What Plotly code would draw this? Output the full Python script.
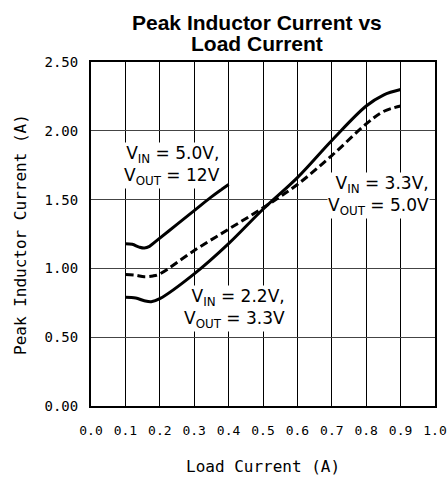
import plotly.graph_objects as go

# Series: VIN = 5.0V, VOUT = 12V (solid)
x_5v = [0.10, 0.12, 0.14, 0.155, 0.17, 0.19, 0.25, 0.30, 0.35, 0.40]
y_5v = [1.18, 1.175, 1.155, 1.148, 1.16, 1.20, 1.32, 1.42, 1.52, 1.61]

# Series: VIN = 2.2V, VOUT = 3.3V (solid)
x_22v = [0.10, 0.13, 0.155, 0.175, 0.20, 0.30, 0.40, 0.50, 0.60, 0.70, 0.80, 0.85, 0.90]
y_22v = [0.79, 0.785, 0.765, 0.758, 0.78, 0.96, 1.18, 1.43, 1.66, 1.93, 2.18, 2.26, 2.30]

# Series: VIN = 3.3V, VOUT = 5.0V (dashed)
x_33v = [0.10, 0.13, 0.155, 0.18, 0.20, 0.30, 0.40, 0.50, 0.60, 0.70, 0.80, 0.85, 0.90]
y_33v = [0.955, 0.95, 0.94, 0.945, 0.96, 1.13, 1.285, 1.44, 1.61, 1.82, 2.05, 2.14, 2.18]

x_ticks = [0.0, 0.1, 0.2, 0.3, 0.4, 0.5, 0.6, 0.7, 0.8, 0.9, 1.0]
x_tick_labels = ["0.0", "0.1", "0.2", "0.3", "0.4", "0.5", "0.6", "0.7", "0.8", "0.9", "1.0"]
y_ticks = [0.0, 0.5, 1.0, 1.5, 2.0, 2.5]
y_tick_labels = ["0.00", "0.50", "1.00", "1.50", "2.00", "2.50"]

title_lines = ["Peak Inductor Current vs", "Load Current"]
x_title = "Load Current (A)"
y_title = "Peak Inductor Current (A)"

MONO = "DejaVu Sans Mono"
SANS = "DejaVu Sans"

fig = go.Figure()
fig.add_trace(go.Scatter(x=x_5v, y=y_5v, mode="lines", line=dict(color="black", width=3, shape="spline"), showlegend=False))
fig.add_trace(go.Scatter(x=x_22v, y=y_22v, mode="lines", line=dict(color="black", width=3, shape="spline"), showlegend=False))
fig.add_trace(go.Scatter(x=x_33v, y=y_33v, mode="lines", line=dict(color="black", width=3, dash="8px,4px", shape="spline"), showlegend=False))

ann_font = dict(family=SANS, size=17, color="black")
fig.add_annotation(x=0.378, y=1.75, xref="x", yref="y", xanchor="right", yanchor="middle", align="right",
                   text="V<sub>IN</sub> = 5.0V,<br>V<sub>OUT</sub> = 12V", showarrow=False, font=ann_font,
                   bgcolor="white", borderpad=0)
fig.add_annotation(x=0.567, y=0.705, xref="x", yref="y", xanchor="right", yanchor="middle", align="right",
                   text="V<sub>IN</sub> = 2.2V,<br>V<sub>OUT</sub> = 3.3V", showarrow=False, font=ann_font,
                   bgcolor="white", borderpad=0)
fig.add_annotation(x=0.985, y=1.53, xref="x", yref="y", xanchor="right", yanchor="middle", align="right",
                   text="V<sub>IN</sub> = 3.3V,<br>V<sub>OUT</sub> = 5.0V", showarrow=False, font=ann_font,
                   bgcolor="white", borderpad=0)

# Title (two tightly spaced lines)
title_font = dict(family="Liberation Sans, Arial", size=21, color="black")
fig.add_annotation(x=0.4826, y=1.1134, xref="paper", yref="paper", xanchor="center", yanchor="middle",
                   text="<b>" + title_lines[0] + "</b>", showarrow=False, font=title_font)
fig.add_annotation(x=0.4826, y=1.0552, xref="paper", yref="paper", xanchor="center", yanchor="middle",
                   text="<b>" + title_lines[1] + "</b>", showarrow=False, font=title_font)

# Axis titles
axis_title_font = dict(family=MONO, size=16, color="black")
fig.add_annotation(x=0.5, y=-0.1773, xref="paper", yref="paper", xanchor="center", yanchor="middle",
                   text=x_title, showarrow=False, font=axis_title_font)
fig.add_annotation(x=-0.2064, y=0.5, xref="paper", yref="paper", xanchor="center", yanchor="middle",
                   text=y_title, textangle=-90, showarrow=False, font=axis_title_font)

fig.update_layout(
    width=447, height=480,
    margin=dict(l=91, r=12, t=62, b=74),
    paper_bgcolor="white", plot_bgcolor="white",
    xaxis=dict(range=[0, 1], tickvals=x_ticks, ticktext=x_tick_labels, showgrid=True,
               gridcolor="black", gridwidth=1.2, showline=True, linecolor="black", linewidth=2,
               mirror=True, ticks="", zeroline=False, automargin=False, ticklabelstandoff=11,
               ticklabeloverflow="allow",
               tickfont=dict(family=MONO, size=13, color="black")),
    yaxis=dict(range=[0, 2.5], tickvals=y_ticks, ticktext=y_tick_labels, showgrid=True,
               gridcolor="#444444", gridwidth=1.2, showline=True, linecolor="black", linewidth=2,
               mirror=True, ticks="", zeroline=False, automargin=False, ticklabelstandoff=8,
               ticklabeloverflow="allow",
               tickfont=dict(family=MONO, size=14, color="black")),
)

# Remove the default page margin so the 447x480 figure fills the window exactly
fig.write_html("out.html", config={"displayModeBar": False},
               post_script="document.body.style.margin='0';document.body.style.overflow='hidden';")
